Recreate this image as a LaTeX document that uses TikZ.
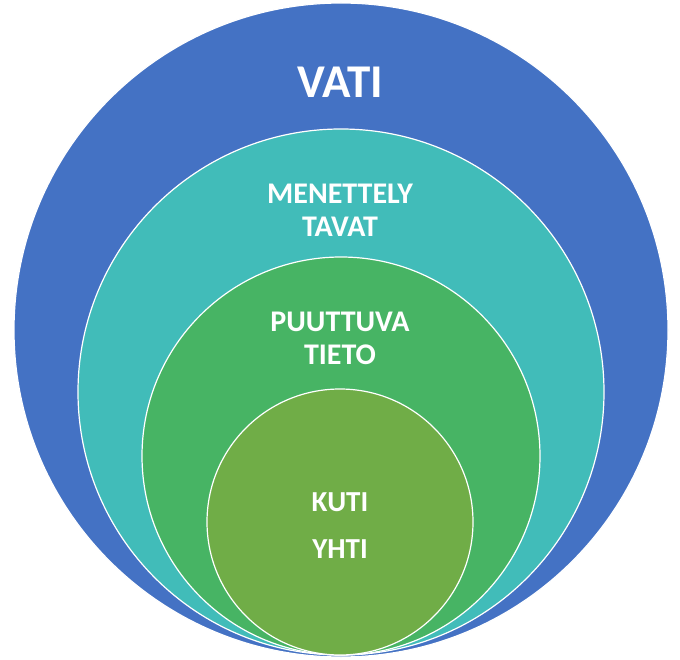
\documentclass[tikz,border=0pt]{standalone}
\usepackage{fontspec}
\setmainfont{Carlito}
\definecolor{vatiblue}{HTML}{4472C4}
\definecolor{menteal}{HTML}{41BCB9}
\definecolor{puugreen}{HTML}{47B464}
\definecolor{kutigreen}{HTML}{70AD47}
\tikzset{
    ring/.style = {circle, draw=white, line width=1.2pt, inner sep=0pt},
    ringlabel/.style = {text=white, font=\bfseries, align=center, inner sep=0pt}
}
\begin{document}
\begin{tikzpicture}[x=1pt, y=-1pt]
    \useasboundingbox (0,0) rectangle (680,660);
    % nested circles
    \node [ring, fill=vatiblue, minimum size=654pt] (vati) at (341,330) {};
    \node [ring, fill=menteal, minimum size=526pt] (menettely) at (341,392) {};
    \node [ring, fill=puugreen, minimum size=398pt] (puuttuva) at (341,456) {};
    \node [ring, fill=kutigreen, minimum size=266pt] (kuti) at (340,522) {};
    % labels
    \node [ringlabel, font=\bfseries\fontsize{47}{50}\selectfont] (vatitext) at (340,82) {VATI};
    \node [ringlabel, font=\bfseries\fontsize{30}{33}\selectfont] (mentext) at (340,210) {MENETTELY\\TAVAT};
    \node [ringlabel, font=\bfseries\fontsize{30}{33}\selectfont] (puutext) at (340,338) {PUUTTUVA\\TIETO};
    \node [ringlabel, font=\bfseries\fontsize{29}{47}\selectfont] (kutitext) at (340,526) {KUTI\\YHTI};
\end{tikzpicture}
\end{document}
